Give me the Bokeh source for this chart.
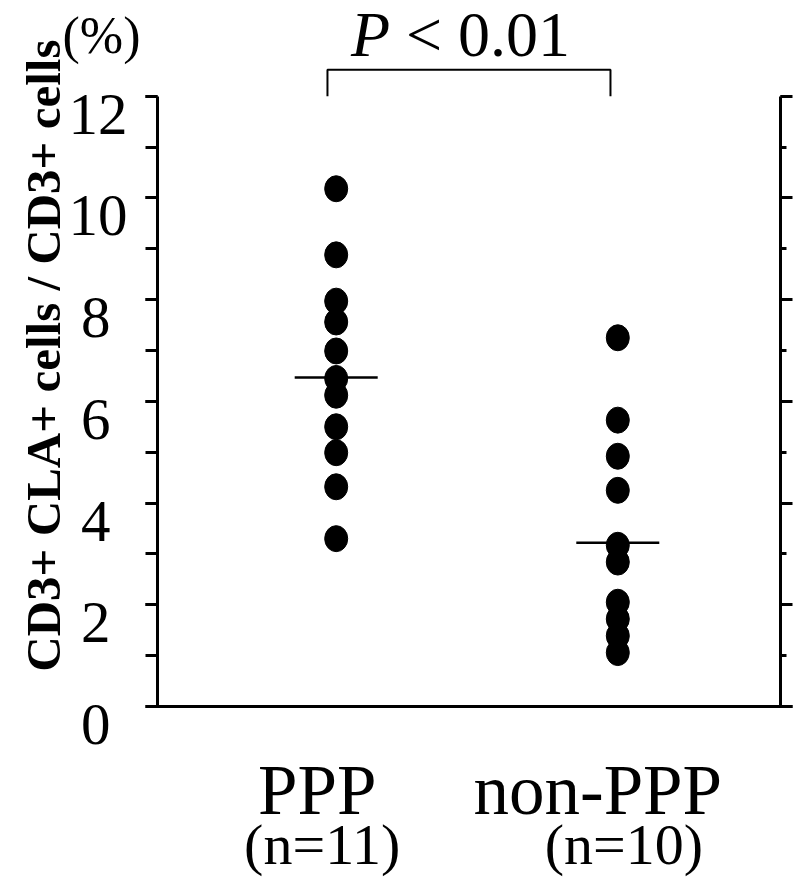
import numpy as np
from bokeh.plotting import figure
from bokeh.models import (Range1d, LinearAxis, SingleIntervalTicker, FixedTicker,
                          ColumnDataSource, CustomJSTickFormatter)
from bokeh.core.properties import value
from bokeh.embed import file_html
from bokeh.resources import INLINE

# ---- data ----
groups = ["PPP", "non-PPP"]
group_n = ["(n=11)", "(n=10)"]
group_pos = [1, 2]
ppp_values = [10.18, 8.88, 7.97, 7.56, 6.99, 6.45, 6.12, 5.50, 4.99, 4.32, 3.30]
nonppp_values = [7.25, 5.63, 4.92, 4.25, 3.17, 2.84, 2.05, 1.72, 1.39, 1.06]
line_values = [6.47, 3.22]
bracket_y = [12.0, 12.52]
y_ticks_two_digit = [10, 12]
y_ticks_one_digit = [0, 2, 4, 6, 8]
y_axis_bounds = (0, 12)
p_symbol = "P"
p_rest = "< 0.01"
y_label = "CD3+ CLA+ cells / CD3+ cells"
y_unit = "(%)"

FONT = "Liberation Serif"
W, H = 796, 882

# frame covers whole canvas; axes are pinned with fixed_location
X0, X1 = -0.1921, 2.6346
Y0, Y1 = -3.4605, 13.881
x_left, x_right = 0.3654, 2.5778
px_per_y = H / (Y1 - Y0)
lbl_shift = 18 / px_per_y

p = figure(width=W, height=H, x_range=Range1d(X0, X1), y_range=Range1d(Y0, Y1),
           output_backend="svg", toolbar_location=None,
           x_axis_location=None, y_axis_location=None, min_border=0)
p.extra_y_ranges = {"lbl": Range1d(Y0 + lbl_shift, Y1 + lbl_shift)}
p.outline_line_color = None
p.xgrid.visible = False
p.ygrid.visible = False
p.background_fill_color = "white"
p.border_fill_color = "white"

blank = CustomJSTickFormatter(code="return ''")

# left axis (line + ticks)
yl = LinearAxis(ticker=SingleIntervalTicker(interval=2, num_minor_ticks=2),
                bounds=y_axis_bounds, fixed_location=x_left, formatter=blank)
yl.axis_line_width = 3
yl.major_tick_line_width = 3
yl.minor_tick_line_width = 3
yl.major_tick_out = 12
yl.major_tick_in = 0
yl.minor_tick_out = 12
yl.minor_tick_in = 0
yl.major_label_standoff = 0
p.add_layout(yl, "left")

# left axis tick labels (centred look: two label axes)
for ticks, standoff in ((y_ticks_two_digit, 30), (y_ticks_one_digit, 47)):
    la = LinearAxis(ticker=FixedTicker(ticks=ticks), y_range_name="lbl",
                    fixed_location=x_left)
    la.axis_line_color = None
    la.major_tick_line_color = None
    la.minor_tick_line_color = None
    la.major_tick_out = 0
    la.major_tick_in = 0
    la.major_label_standoff = standoff
    la.major_label_text_font = FONT
    la.major_label_text_font_size = "59px"
    la.major_label_text_color = "black"
    p.add_layout(la, "left")

# right axis
yr = LinearAxis(ticker=SingleIntervalTicker(interval=2, num_minor_ticks=2),
                bounds=y_axis_bounds, fixed_location=x_right, formatter=blank)
yr.axis_line_width = 3
yr.major_tick_line_width = 3
yr.minor_tick_line_width = 3
yr.major_tick_out = 12
yr.major_tick_in = 0
yr.minor_tick_out = 6
yr.minor_tick_in = 0
yr.major_label_standoff = 0
p.add_layout(yr, "right")

# bottom axis line
xb = LinearAxis(ticker=FixedTicker(ticks=[]), fixed_location=0,
                bounds=(x_left - 0.004, x_right + 0.043))
xb.axis_line_width = 3
xb.major_tick_line_color = None
xb.minor_tick_line_color = None
xb.major_label_standoff = 0
p.add_layout(xb, "below")

# points
src1 = ColumnDataSource(dict(x=[group_pos[0]] * len(ppp_values), y=ppp_values))
src2 = ColumnDataSource(dict(x=[group_pos[1]] * len(nonppp_values), y=nonppp_values))
for s in (src1, src2):
    p.ellipse(x="x", y="y", width=23, height=26, width_units="screen", height_units="screen",
              source=s, fill_color="black", line_color="black")

# group lines
p.scatter(x=group_pos, y=line_values, marker="dash", size=83, line_width=2.5, line_color="black")

# significance bracket
x0 = group_pos[0] - 0.031
x1 = group_pos[1] - 0.026
p.line(x=[x0, x0, x1, x1], y=[bracket_y[0], bracket_y[1], bracket_y[1], bracket_y[0]],
       line_width=2, line_color="black")
mid = (group_pos[0] + group_pos[1]) / 2
p.text(x=[mid], y=[13.21], text=[p_symbol], x_offset=-126, text_font=value(FONT),
       text_font_style="italic", text_font_size="64px", text_align="left",
       text_baseline="alphabetic", text_color="black")
p.text(x=[mid], y=[13.21], text=[p_rest], x_offset=-71, text_font=value(FONT),
       text_font_size="64px", text_align="left",
       text_baseline="alphabetic", text_color="black")

# y label (rotated) and unit
p.text(x=[-0.0394], y=[6.90], text=[y_label], angle=np.pi / 2, text_font=value(FONT),
       text_font_style="bold", text_font_size="49px", text_align="center",
       text_baseline="alphabetic", text_color="black")
p.text(x=[0.0281], y=[13.19], text=[y_unit], text_font=value(FONT),
       text_font_size="52px", text_align="left", text_baseline="alphabetic",
       text_color="black")

# group labels
name_off = [-19, -20]
n_off = [-14, 6]
p.text(x=group_pos, y=[-1.64] * 2, text=groups, x_offset=name_off, text_font=value(FONT),
       text_font_size="71px", text_align="center", text_baseline="alphabetic",
       text_color="black")
p.text(x=group_pos, y=[-2.713] * 2, text=group_n, x_offset=n_off, text_font=value(FONT),
       text_font_size="58px", text_align="center", text_baseline="alphabetic",
       text_color="black")

open("out.html", "w").write(file_html(p, INLINE))
